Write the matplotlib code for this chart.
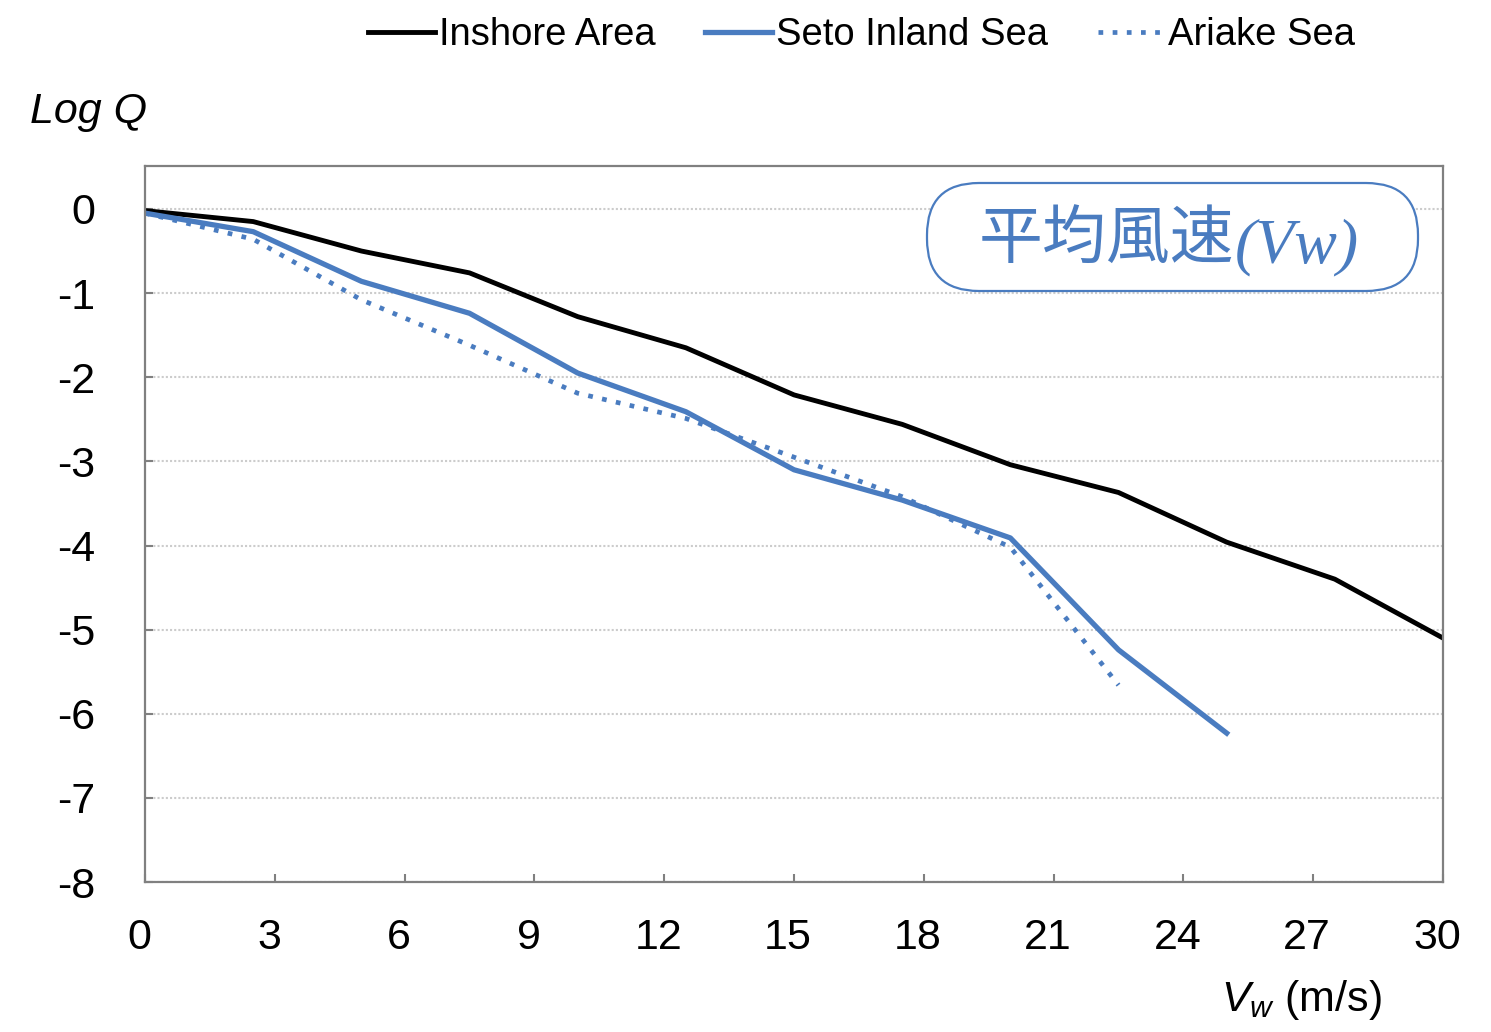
import matplotlib.pyplot as plt
from matplotlib.patches import FancyBboxPatch
from matplotlib.transforms import ScaledTranslation

plt.rcParams['font.family'] = ['Liberation Sans', 'DejaVu Sans']
plt.rcParams['mathtext.fontset'] = 'custom'
plt.rcParams['mathtext.it'] = 'Liberation Sans:italic'
plt.rcParams['mathtext.rm'] = 'Liberation Sans'

# wind speed (m/s) and log exceedance for each sea area
wind = [0, 2.5, 5, 7.5, 10, 12.5, 15, 17.5, 20, 22.5, 25, 27.5, 30]
inshore = [-0.02, -0.15, -0.50, -0.76, -1.28, -1.65, -2.21, -2.56, -3.04, -3.37, -3.96, -4.40, -5.10]
seto = [-0.05, -0.27, -0.86, -1.24, -1.95, -2.41, -3.10, -3.46, -3.91, -5.24, -6.23]
ariake = [-0.05, -0.36, -1.08, -1.62, -2.19, -2.49, -2.95, -3.42, -4.02, -5.66]

xticks = [0, 3, 6, 9, 12, 15, 18, 21, 24, 27, 30]
yticks = [0, -1, -2, -3, -4, -5, -6, -7, -8]

blue = '#4a7cc0'

fig = plt.figure(figsize=(14.91, 10.32), dpi=100)
ax = fig.add_axes([0.0973, 0.1453, 0.8705, 0.6938])

ax.plot(wind, inshore, color='black', lw=3.5, label='Inshore Area')
ax.plot(wind[:len(seto)], seto, color=blue, lw=3.8, label='Seto Inland Sea')
ax.plot(wind[:len(ariake)], ariake, color=blue, lw=3.4, linestyle=(0, (1, 2.0)),
        label='Ariake Sea')

ax.set_xlim(0, 30)
ax.set_ylim(-8, 0.51)
ax.set_xticks(xticks)
ax.set_yticks(yticks)
ax.set_yticklabels([str(t) for t in yticks])
ax.tick_params(axis='both', direction='in', length=6, width=1.5, color='#808080',
               labelsize=31)
ax.tick_params(axis='y', pad=36)
ax.tick_params(axis='x', pad=26)
# x labels sit a little left of their ticks
shift = ScaledTranslation(-6 / 100, 0, fig.dpi_scale_trans)
for lab in ax.get_xticklabels():
    lab.set_transform(lab.get_transform() + shift)
ax.yaxis.grid(True, linestyle=(0, (1, 1)), color='#cccccc', lw=1.5)
ax.set_axisbelow(True)
for sp in ax.spines.values():
    sp.set_color('#808080')
    sp.set_linewidth(1.6)

fig.legend(loc='center', bbox_to_anchor=(0.578, 0.966), ncol=3, frameon=False,
           fontsize=27.5, handlelength=1.75, handletextpad=0.1, columnspacing=1.3)

fig.text(30 / 1491, 1 - 112 / 1032, 'Log Q', fontsize=31, style='italic',
         ha='left', va='center')
fig.text(1382 / 1491, 1 - 1000 / 1032, '$V_w$ (m/s)', fontsize=31,
         ha='right', va='center')

# rounded label box inside the plot
box = FancyBboxPatch((9.27, 7.41), 4.91, 1.08,
                     boxstyle='round,pad=0,rounding_size=0.52',
                     transform=fig.dpi_scale_trans, facecolor='white',
                     edgecolor=blue, lw=1.6, zorder=5)
fig.patches.append(box)
fig.text(12.34, (1032 - 241) / 100, '平均風速', transform=fig.dpi_scale_trans,
         family=['Noto Sans CJK JP'], fontsize=46, color=blue,
         ha='right', va='center', zorder=6)
fig.text(12.35, (1032 - 247) / 100, '(Vw)', transform=fig.dpi_scale_trans,
         family=['Liberation Serif'], style='italic', fontsize=46, color=blue,
         ha='left', va='center', zorder=6)

fig.savefig('out.png', dpi=100)
